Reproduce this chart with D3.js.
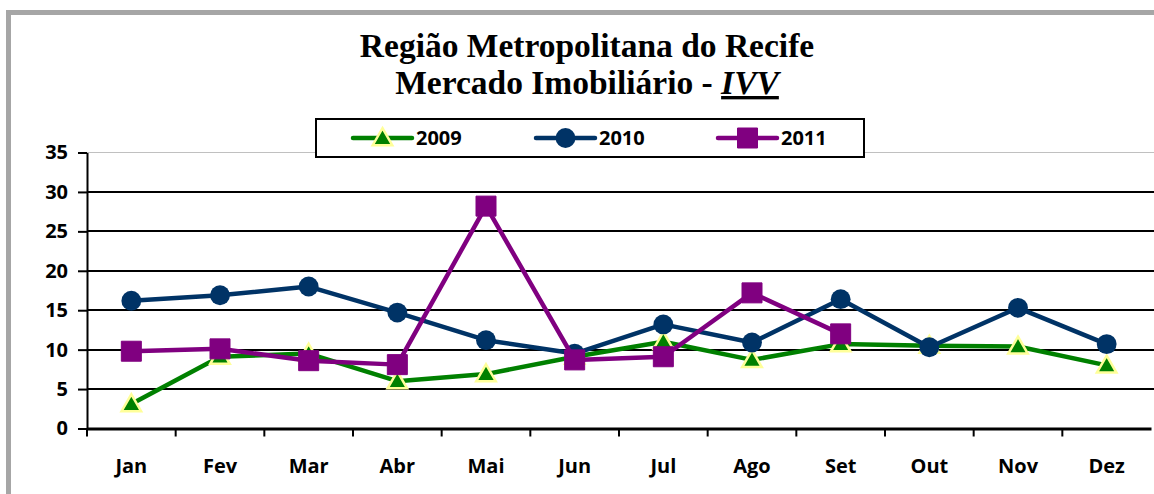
<!DOCTYPE html>
<html>
<head>
<meta charset="utf-8">
<script src="https://cdn.jsdelivr.net/npm/d3@7"></script>
<style>
  html, body { margin: 0; padding: 0; background: #ffffff; }
  svg { display: block; }
  .tick-label { font-family: "Open Sans", sans-serif; font-weight: 700; font-size: 20px; fill: #000; }
  .title { font-family: "Liberation Serif", "DejaVu Serif", serif; font-weight: 700; font-size: 33.5px; fill: #000; }
</style>
</head>
<body>
<div id="chart"></div>
<script>
// dados do gráfico
const months = ['Jan', 'Fev', 'Mar', 'Abr', 'Mai', 'Jun', 'Jul', 'Ago', 'Set', 'Out', 'Nov', 'Dez'];
const ivv2009 = [3.1, 9.1, 9.5, 6.0, 6.9, 9.1, 11.0, 8.7, 10.7, 10.5, 10.4, 8.0];
const ivv2010 = [16.2, 16.9, 18.0, 14.7, 11.2, 9.5, 13.2, 10.9, 16.4, 10.3, 15.3, 10.7];
const ivv2011 = [9.8, 10.1, 8.6, 8.1, 28.2, 8.7, 9.1, 17.2, 12.0, null, null, null];
const yTicks = [0, 5, 10, 15, 20, 25, 30, 35];
const seriesNames = ['2009', '2010', '2011'];

const width = 1154;
const height = 494;
const margin = { top: 152.5, right: 3, bottom: 65.5, left: 87 };

const series = [
    { name: seriesNames[0], values: ivv2009, color: '#008000', marker: 'triangle' },
    { name: seriesNames[1], values: ivv2010, color: '#003366', marker: 'circle' },
    { name: seriesNames[2], values: ivv2011, color: '#800080', marker: 'square' }
];

const svg = d3.select('#chart')
    .append('svg')
    .attr('width', width)
    .attr('height', height);

// moldura cinza (só aparecem os lados esquerdo e superior)
svg.append('rect')
    .attr('x', 8.5)
    .attr('y', 12.5)
    .attr('width', 1300)
    .attr('height', 700)
    .attr('fill', '#ffffff')
    .attr('stroke', '#a6a6a6')
    .attr('stroke-width', 5);

// títulos
const title = svg.append('text')
    .attr('class', 'title')
    .attr('text-anchor', 'middle')
    .attr('x', 587);
title.append('tspan').attr('x', 587).attr('y', 57).text('Região Metropolitana do Recife');
const line2 = title.append('tspan').attr('x', 587).attr('y', 94);
line2.append('tspan').text('Mercado Imobiliário - ');
line2.append('tspan')
    .style('font-style', 'italic')
    .style('text-decoration', 'underline')
    .text('IVV');

// escalas
const x = d3.scaleBand()
    .domain(months)
    .range([margin.left, width - margin.right]);

const y = d3.scaleLinear()
    .domain([0, 35])
    .range([height - margin.bottom, margin.top]);

// borda superior da área de plotagem
svg.append('line')
    .attr('x1', margin.left).attr('x2', width)
    .attr('y1', y(35)).attr('y2', y(35))
    .attr('stroke', '#c0c0c0')
    .attr('stroke-width', 1);

// linhas de grade
svg.append('g')
    .selectAll('line')
    .data(yTicks.filter(d => d > 0 && d < 35))
    .enter()
    .append('line')
    .attr('x1', margin.left)
    .attr('x2', width)
    .attr('y1', d => Math.round(y(d)))
    .attr('y2', d => Math.round(y(d)))
    .attr('stroke', '#000')
    .attr('stroke-width', 2);

// eixo Y
const yAxis = svg.append('g')
    .attr('transform', `translate(${margin.left},0)`)
    .call(d3.axisLeft(y).tickValues(yTicks).tickSize(9).tickSizeOuter(0).tickPadding(10));
yAxis.select('.domain').attr('stroke-width', 2);
yAxis.selectAll('.tick line').attr('stroke-width', 2);
yAxis.selectAll('.tick text').attr('class', 'tick-label').attr('font-size', null).attr('font-family', null);

// eixo X
const xAxis = svg.append('g')
    .attr('transform', `translate(0,${y(0)})`)
    .call(d3.axisBottom(x).tickSize(0).tickSizeOuter(0).tickPadding(30));
xAxis.select('.domain').attr('stroke-width', 3);
xAxis.selectAll('.tick text').attr('class', 'tick-label').attr('font-size', null).attr('font-family', null);

// marcas de divisão entre categorias
svg.append('g')
    .selectAll('line')
    .data(months)
    .enter()
    .append('line')
    .attr('x1', d => x(d))
    .attr('x2', d => x(d))
    .attr('y1', y(0))
    .attr('y2', y(0) + 8)
    .attr('stroke', '#000')
    .attr('stroke-width', 2);

const markerPath = {
    triangle: d3.symbol().type(d3.symbolTriangle).size(165),
    circle: d3.symbol().type(d3.symbolCircle).size(310),
    square: d3.symbol().type(d3.symbolSquare).size(400)
};

function drawMarker(g, s, cx, cy) {
    const p = g.append('path')
        .attr('transform', `translate(${cx},${cy + (s.marker === 'triangle' ? 1.5 : 0)})`)
        .attr('d', markerPath[s.marker]())
        .attr('fill', s.color);
    if (s.marker === 'triangle') {
        p.attr('stroke', '#ffff99').attr('stroke-width', 2.5).attr('stroke-linejoin', 'miter');
    } else if (s.marker === 'square') {
        p.attr('stroke', s.color).attr('stroke-width', 1).attr('stroke-linejoin', 'round');
    }
}

const line = d3.line()
    .defined(d => d.value !== null)
    .x(d => x(d.month) + x.bandwidth() / 2)
    .y(d => y(d.value));

// séries
series.forEach(s => {
    const pts = months.map((m, i) => ({ month: m, value: s.values[i] }));
    const g = svg.append('g');
    g.append('path')
        .datum(pts)
        .attr('fill', 'none')
        .attr('stroke', s.color)
        .attr('stroke-width', 4.5)
        .attr('stroke-linejoin', 'round')
        .attr('d', line);
    pts.filter(d => d.value !== null).forEach(d => {
        drawMarker(g, s, x(d.month) + x.bandwidth() / 2, y(d.value));
    });
});

// legenda
const legend = svg.append('g');
legend.append('rect')
    .attr('x', 316)
    .attr('y', 119)
    .attr('width', 548)
    .attr('height', 38)
    .attr('fill', '#fff')
    .attr('stroke', '#000')
    .attr('stroke-width', 2);

const legendX = [353, 536, 718];
series.forEach((s, i) => {
    const lx = legendX[i];
    legend.append('line')
        .attr('x1', lx).attr('x2', lx + 59)
        .attr('y1', 138).attr('y2', 138)
        .attr('stroke', s.color)
        .attr('stroke-width', 4.5)
        .attr('stroke-linecap', 'round');
    drawMarker(legend, s, lx + 29.5, 138);
    legend.append('text')
        .attr('class', 'tick-label')
        .attr('x', lx + 63)
        .attr('y', 145)
        .text(s.name);
});
</script>
</body>
</html>
